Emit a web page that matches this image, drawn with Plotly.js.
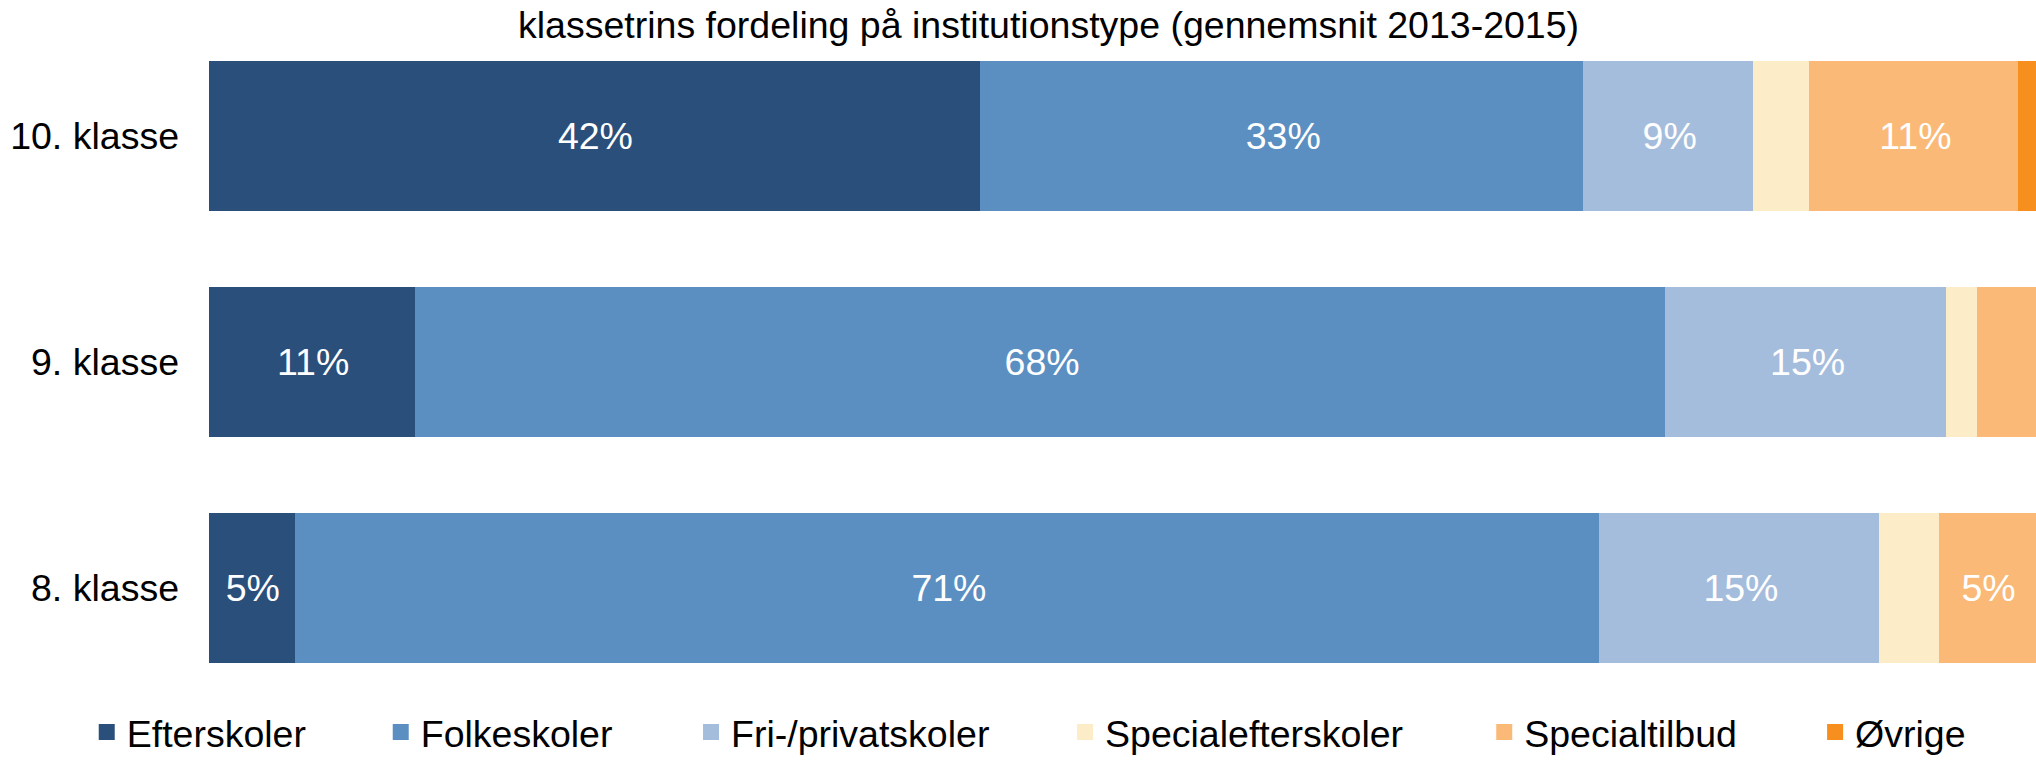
<!DOCTYPE html>
<html>
<head>
<meta charset="utf-8">
<script src="https://cdn.plot.ly/plotly-3.0.1.min.js"></script>
<style>html,body{margin:0;padding:0;background:#fff;}#chart{width:2036px;height:763px;}</style>
</head>
<body>
<div id="chart"></div>
<script>
// Categories (bottom to top in Plotly order)
const categories = ['8. klasse', '9. klasse', '10. klasse'];

// Series values (percent share), same order as categories; null = no segment
const efterskoler        = [4.8, 11.4, 42.3];
const folkeskoler        = [71.4, 68.4, 33.0];
const privatskoler       = [15.3, 15.4, 9.3];
const specialefterskoler = [3.3, 1.7, 3.1];
const specialtilbud      = [5.2, 3.1, 11.4];
const oevrige            = [null, null, 0.9];

const seriesNames  = ['Efterskoler', 'Folkeskoler', 'Fri-/privatskoler', 'Specialefterskoler', 'Specialtilbud', 'Øvrige'];
const seriesValues = [efterskoler, folkeskoler, privatskoler, specialefterskoler, specialtilbud, oevrige];
const seriesColors = ['#2A4F7B', '#5B8FC2', '#A5BDDC', '#FCECC7', '#FBB977', '#F78F1F'];

const titleText = 'klassetrins fordeling på institutionstype (gennemsnit 2013-2015)';

const FONT = 'Liberation Sans, Arial, sans-serif';
const FS = 37.5;

// legend anchor positions (container fraction) for each series entry
const legendX = [0.0426, 0.187, 0.3394, 0.5231, 0.729, 0.8915];

const traces = seriesValues.map((vals, i) => ({
  type: 'bar',
  orientation: 'h',
  name: seriesNames[i],
  y: categories,
  x: vals,
  marker: { color: seriesColors[i], line: { color: seriesColors[i], width: 4 } },
  text: vals.map(v => (v !== null && v >= 4) ? Math.round(v) + '%' : ''),
  textposition: 'inside',
  insidetextanchor: 'middle',
  textangle: 0,
  constraintext: 'none',
  textfont: { family: FONT, size: FS, color: '#ffffff' },
  hoverinfo: 'name+x',
  legend: i === 0 ? 'legend' : 'legend' + (i + 1)
}));

const layout = {
  width: 2036,
  height: 763,
  paper_bgcolor: '#ffffff',
  plot_bgcolor: '#ffffff',
  barmode: 'stack',
  bargap: 0.353,
  margin: { l: 209, r: 0, t: 23, b: 60, pad: 0 },
  font: { family: FONT, size: FS, color: '#000000' },
  title: {
    text: titleText,
    font: { family: FONT, size: FS, color: '#000000' },
    xref: 'container', yref: 'container',
    x: 0.515, xanchor: 'center',
    y: 0.968, yanchor: 'middle'
  },
  xaxis: {
    range: [0, 100],
    showticklabels: false,
    showgrid: false,
    zeroline: false,
    showline: false,
    ticks: '',
    fixedrange: true
  },
  yaxis: {
    type: 'category',
    categoryorder: 'array',
    categoryarray: categories,
    showgrid: false,
    zeroline: false,
    showline: false,
    ticks: '',
    ticklabelstandoff: 29,
    tickfont: { family: FONT, size: FS, color: '#000000' },
    fixedrange: true
  },
  showlegend: true
};

legendX.forEach((lx, i) => {
  const key = i === 0 ? 'legend' : 'legend' + (i + 1);
  layout[key] = {
    orientation: 'h',
    xref: 'container', yref: 'container',
    x: lx, xanchor: 'left',
    y: -0.0055, yanchor: 'bottom',
    bgcolor: 'rgba(0,0,0,0)',
    borderwidth: 0,
    font: { family: FONT, size: FS, color: '#000000' }
  };
});

Plotly.newPlot('chart', traces, layout, { displayModeBar: false, staticPlot: true });
</script>
</body>
</html>
